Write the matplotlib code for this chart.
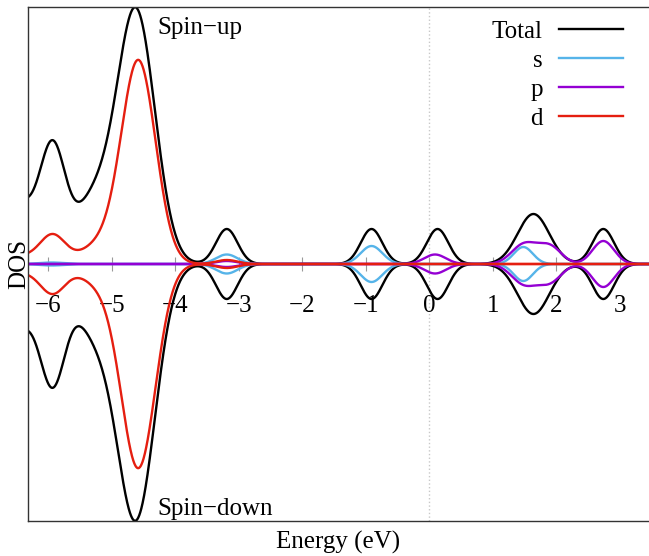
import numpy as np
import matplotlib
matplotlib.use("Agg")
import matplotlib.pyplot as plt

plt.rcParams['font.family'] = ['Liberation Serif', 'DejaVu Serif']

# gaussian-broadened levels: centre (eV), height (states/eV), width (eV)
total_centers = [-6.6, -5.93, -5.3, -4.62, -3.19, -0.91, 0.13, 1.64, 2.74]
total_heights = [7.0, 10.6, 6.0, 25.2, 3.5, 3.5, 3.5, 5.0, 3.5]
total_widths = [0.35, 0.2, 0.3, 0.3, 0.17, 0.17, 0.17, 0.25, 0.17]

s_centers = [-5.95, -3.19, -0.91, 1.48]
s_heights = [0.15, 0.95, 1.8, 1.7]
s_widths = [0.2, 0.17, 0.17, 0.15]

p_centers = [-3.19, 0.09, 1.5, 1.9, 2.74]
p_heights = [0.3, 0.95, 2.0, 1.7, 2.3]
p_widths = [0.17, 0.17, 0.2, 0.18, 0.17]

d_centers = [-6.5, -5.93, -5.2, -4.58, -3.19]
d_heights = [0.8, 2.7, 1.8, 20.2, 0.4]
d_widths = [0.35, 0.2, 0.3, 0.27, 0.17]

labels = ['Total', 's', 'p', 'd']
colors = ['black', '#56b4e9', '#9400d3', '#e51e10']

energy = np.linspace(-6.5, 3.6, 2500)


def broaden(centers, heights, widths):
    dos = np.zeros_like(energy)
    for c, h, w in zip(centers, heights, widths):
        dos += h * np.exp(-(energy - c) ** 2 / (2 * w ** 2))
    return dos


curves = [broaden(total_centers, total_heights, total_widths),
          broaden(s_centers, s_heights, s_widths),
          broaden(p_centers, p_heights, p_widths),
          broaden(d_centers, d_heights, d_widths)]

fig = plt.figure(figsize=(6.49, 5.56), dpi=100)
ax = fig.add_axes([28 / 649, 1 - 521 / 556, 621 / 649, 514 / 556])

ax.axvline(0, color='#c8c8c8', ls=':', lw=1.0, zorder=0)

for dos, col in zip(curves, colors):
    ax.plot(energy, dos, color=col, lw=1.7)
    ax.plot(energy, -dos, color=col, lw=1.7)

ax.set_xlim(-6.32, 3.46)
ax.set_ylim(-25.7, 25.7)
ax.set_xticks(range(-6, 4))
ax.set_yticks([])

for side in ['top', 'left']:
    ax.spines[side].set_color('#333333')
    ax.spines[side].set_linewidth(1.0)
ax.spines['right'].set_visible(False)
ax.spines['bottom'].set_position(('data', 0))
ax.spines['bottom'].set_visible(False)
ax.axhline(-25.7, color='#333333', lw=1.0, clip_on=False)

ax.tick_params(axis='x', direction='inout', length=10, width=0.8,
               color='#999999', labelsize=18, pad=17.5)

ax.set_xlabel('Energy (eV)', fontsize=18)
ax.xaxis.set_label_coords(0.5, -0.0195)
ax.set_ylabel('DOS', fontsize=18)
ax.yaxis.set_label_coords(0.004, 0.5)

ax.text(-4.29, 23.0, 'Spin\u2212up', fontsize=18, va='baseline')
ax.text(-4.29, -25.1, 'Spin\u2212down', fontsize=18, va='baseline')

# key in the top right corner: right-aligned names, sample line after
row_h = 29 / 514
for i, (lab, col) in enumerate(zip(labels, colors)):
    y = 0.957 - i * row_h
    ax.plot([0.855, 0.958], [y, y], color=col, lw=1.7,
            transform=ax.transAxes, clip_on=False)
    ax.text(0.829, y - 9 / 514, lab, fontsize=18, ha='right', va='baseline',
            transform=ax.transAxes)

fig.savefig('out.png', dpi=100)
